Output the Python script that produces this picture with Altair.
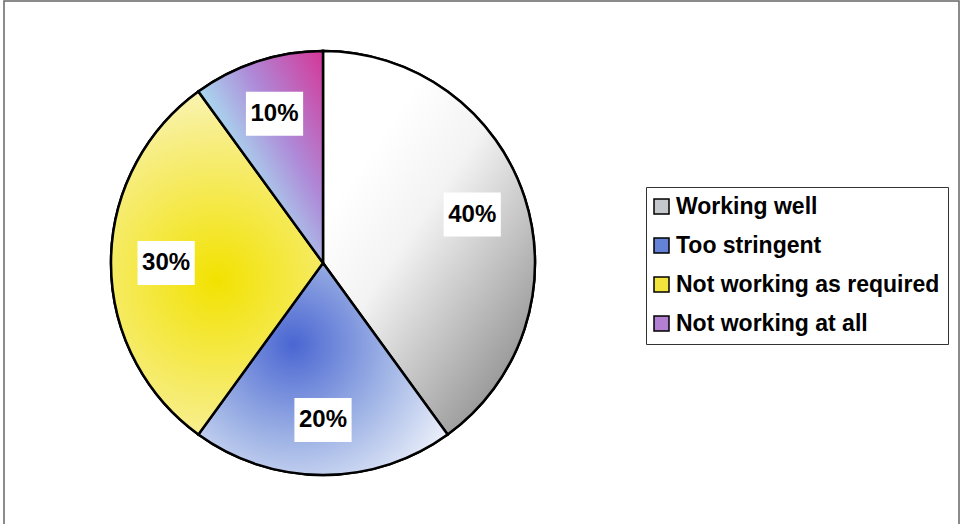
import altair as alt
import pandas as pd

categories = ["Working well", "Too stringent", "Not working as required", "Not working at all"]
values = [40, 20, 30, 10]
legend_colors = ["#c4c7cc", "#6482d6", "#f2e43c", "#b27fd2"]

df = pd.DataFrame({"category": categories, "value": values, "order": list(range(len(categories)))})

def stops(pairs):
    return [alt.GradientStop(offset=o, color=c) for o, c in pairs]

gradients = {
    "Working well": alt.LinearGradient(
        gradient="linear", x1=0.3, y1=0.2, x2=0.9, y2=0.95,
        stops=stops([(0, "#ffffff"), (0.3, "#f3f3f3"), (1, "#8a8a8a")])),
    "Too stringent": alt.RadialGradient(
        gradient="radial", x1=0.38, y1=0.4, r1=0, x2=0.38, y2=0.4, r2=0.8,
        stops=stops([(0, "#4a66d2"), (0.5, "#a2b6e6"), (1, "#ffffff")])),
    "Not working as required": alt.RadialGradient(
        gradient="radial", x1=0.5, y1=0.55, r1=0, x2=0.5, y2=0.55, r2=0.78,
        stops=stops([(0, "#f2e200"), (0.55, "#f7ee88"), (1, "#ffffff")])),
    "Not working at all": alt.LinearGradient(
        gradient="linear", x1=0.95, y1=0.0, x2=0.2, y2=0.7,
        stops=stops([(0, "#d23c9c"), (0.45, "#ae8ad8"), (0.85, "#a8e2f2"), (1, "#a8e6f4")])),
}

R_LABEL = 0.74

base = alt.Chart(df).transform_window(
    end="sum(value)", sort=[alt.SortField("order")], frame=[None, 0]
).transform_calculate(
    start="datum.end - datum.value",
    mid="(datum.end - datum.value / 2) / 100 * 2 * PI",
    label="datum.value + '%'",
).transform_calculate(
    lx=f"{R_LABEL} * sin(datum.mid)",
    ly=f"{R_LABEL} * cos(datum.mid)",
)

theta = alt.Theta("start:Q", scale=alt.Scale(domain=[0, 100]))
theta2 = alt.Theta2("end:Q")

legend_layer = base.mark_arc(stroke="black", strokeWidth=2.5).encode(
    theta=theta, theta2=theta2,
    fill=alt.Fill("category:N", sort=categories,
                  scale=alt.Scale(domain=categories, range=legend_colors),
                  legend=alt.Legend(
                      title=None, orient="none", legendX=535, legendY=136,
                      labelFont="Liberation Sans", labelFontSize=23, labelFontWeight="bold",
                      labelColor="black", labelLimit=400, labelOffset=3,
                      symbolType="square", symbolSize=225, symbolStrokeColor="black",
                      symbolStrokeWidth=1.5, symbolOpacity=1, symbolOffset=-4,
                      strokeColor="#333333", fillColor="white", padding=8, rowPadding=15)),
)

grad_layers = [
    base.transform_filter(alt.datum.category == cat).mark_arc(
        fill=gradients[cat], stroke="black", strokeWidth=2.5
    ).encode(theta=theta, theta2=theta2)
    for cat in categories
]

xenc = alt.X("lx:Q", scale=alt.Scale(domain=[-1, 1]), axis=None)
yenc = alt.Y("ly:Q", scale=alt.Scale(domain=[-1, 1]), axis=None)

boxes = base.mark_point(
    shape="M-1.3,-1H1.3V1H-1.3Z", size=1936, filled=True, fill="white",
    opacity=1, strokeWidth=0
).encode(x=xenc, y=yenc)

texts = base.mark_text(
    font="Liberation Sans", fontSize=24, fontWeight="bold", color="black"
).encode(x=xenc, y=yenc, text="label:N")

frame = alt.Chart(alt.Data(values=[{"f": 1}])).mark_rect(
    fill="transparent", stroke="#666666", strokeWidth=1.5
).encode(x=alt.value(-107), x2=alt.value(848), y=alt.value(-50), y2=alt.value(480))

chart = alt.layer(frame, legend_layer, *grad_layers, boxes, texts).properties(
    width=424, height=424,
    autosize=alt.AutoSizeParams(type="none"),
    padding={"left": 111, "top": 51, "right": 429, "bottom": 49},
    background="white",
).configure_view(stroke=None)

chart.save("out.html", embed_options={"renderer": "svg", "actions": False})
